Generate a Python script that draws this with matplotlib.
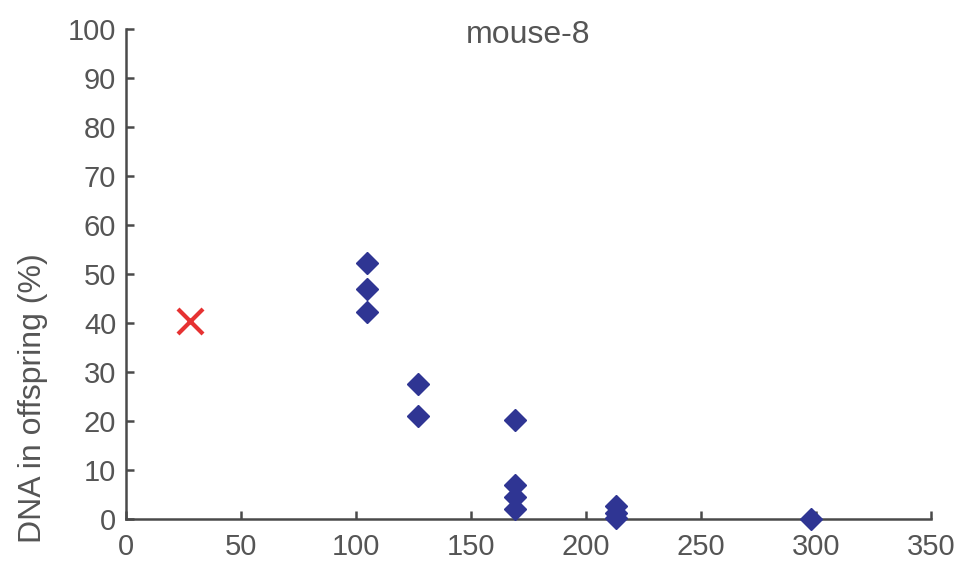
import matplotlib

matplotlib.use("Agg")
import matplotlib.pyplot as plt

plt.rcParams["font.family"] = ["Liberation Sans", "DejaVu Sans"]

# donor samples (blue diamonds)
donor_x = [105, 105, 105, 127, 127, 169, 169, 169, 169, 213, 213, 213, 298]
donor_y = [52.3, 47, 42.3, 27.6, 21, 20.2, 7, 4.5, 2, 2.6, 1.2, 0.2, 0]
# founder (red cross)
founder_x = [28]
founder_y = [40.5]

x_ticks = [0, 50, 100, 150, 200, 250, 300, 350]
y_ticks = [0, 10, 20, 30, 40, 50, 60, 70, 80, 90, 100]

TEXT = "#555555"

fig = plt.figure(figsize=(9.61, 5.63), dpi=100)
ax = fig.add_axes([0.1311, 0.0782, 0.8377, 0.8703])

ax.plot(donor_x, donor_y, linestyle="none", marker="D", markersize=11,
        color="#2f3593", clip_on=False, zorder=3)
ax.plot(founder_x, founder_y, linestyle="none", marker="x", markersize=18,
        markeredgewidth=3, color="#e63232", zorder=3)

ax.set_xlim(0, 350)
ax.set_ylim(0, 100)
ax.set_xticks(x_ticks)
ax.set_yticks(y_ticks)
for side in ("top", "right"):
    ax.spines[side].set_visible(False)
for side in ("left", "bottom"):
    ax.spines[side].set_color("#4a4a4a")
    ax.spines[side].set_linewidth(1.8)
ax.tick_params(direction="in", length=6, width=1.8, color="#4a4a4a",
               labelsize=21, labelcolor=TEXT)
ax.tick_params(axis="x", pad=10)
ax.tick_params(axis="y", pad=7)

fig.text(0.5 * (0.1311 + 0.9688), 1 - 35 / 563, "mouse-8", ha="center",
         va="center", fontsize=23, color=TEXT)

# the source image is cropped, only this part of the axis label is visible
fig.text(33 / 961, 1 - 253 / 563, "DNA in offspring (%)", rotation=90,
         ha="center", va="top", fontsize=23, color=TEXT)

fig.savefig("out.png", dpi=100)
